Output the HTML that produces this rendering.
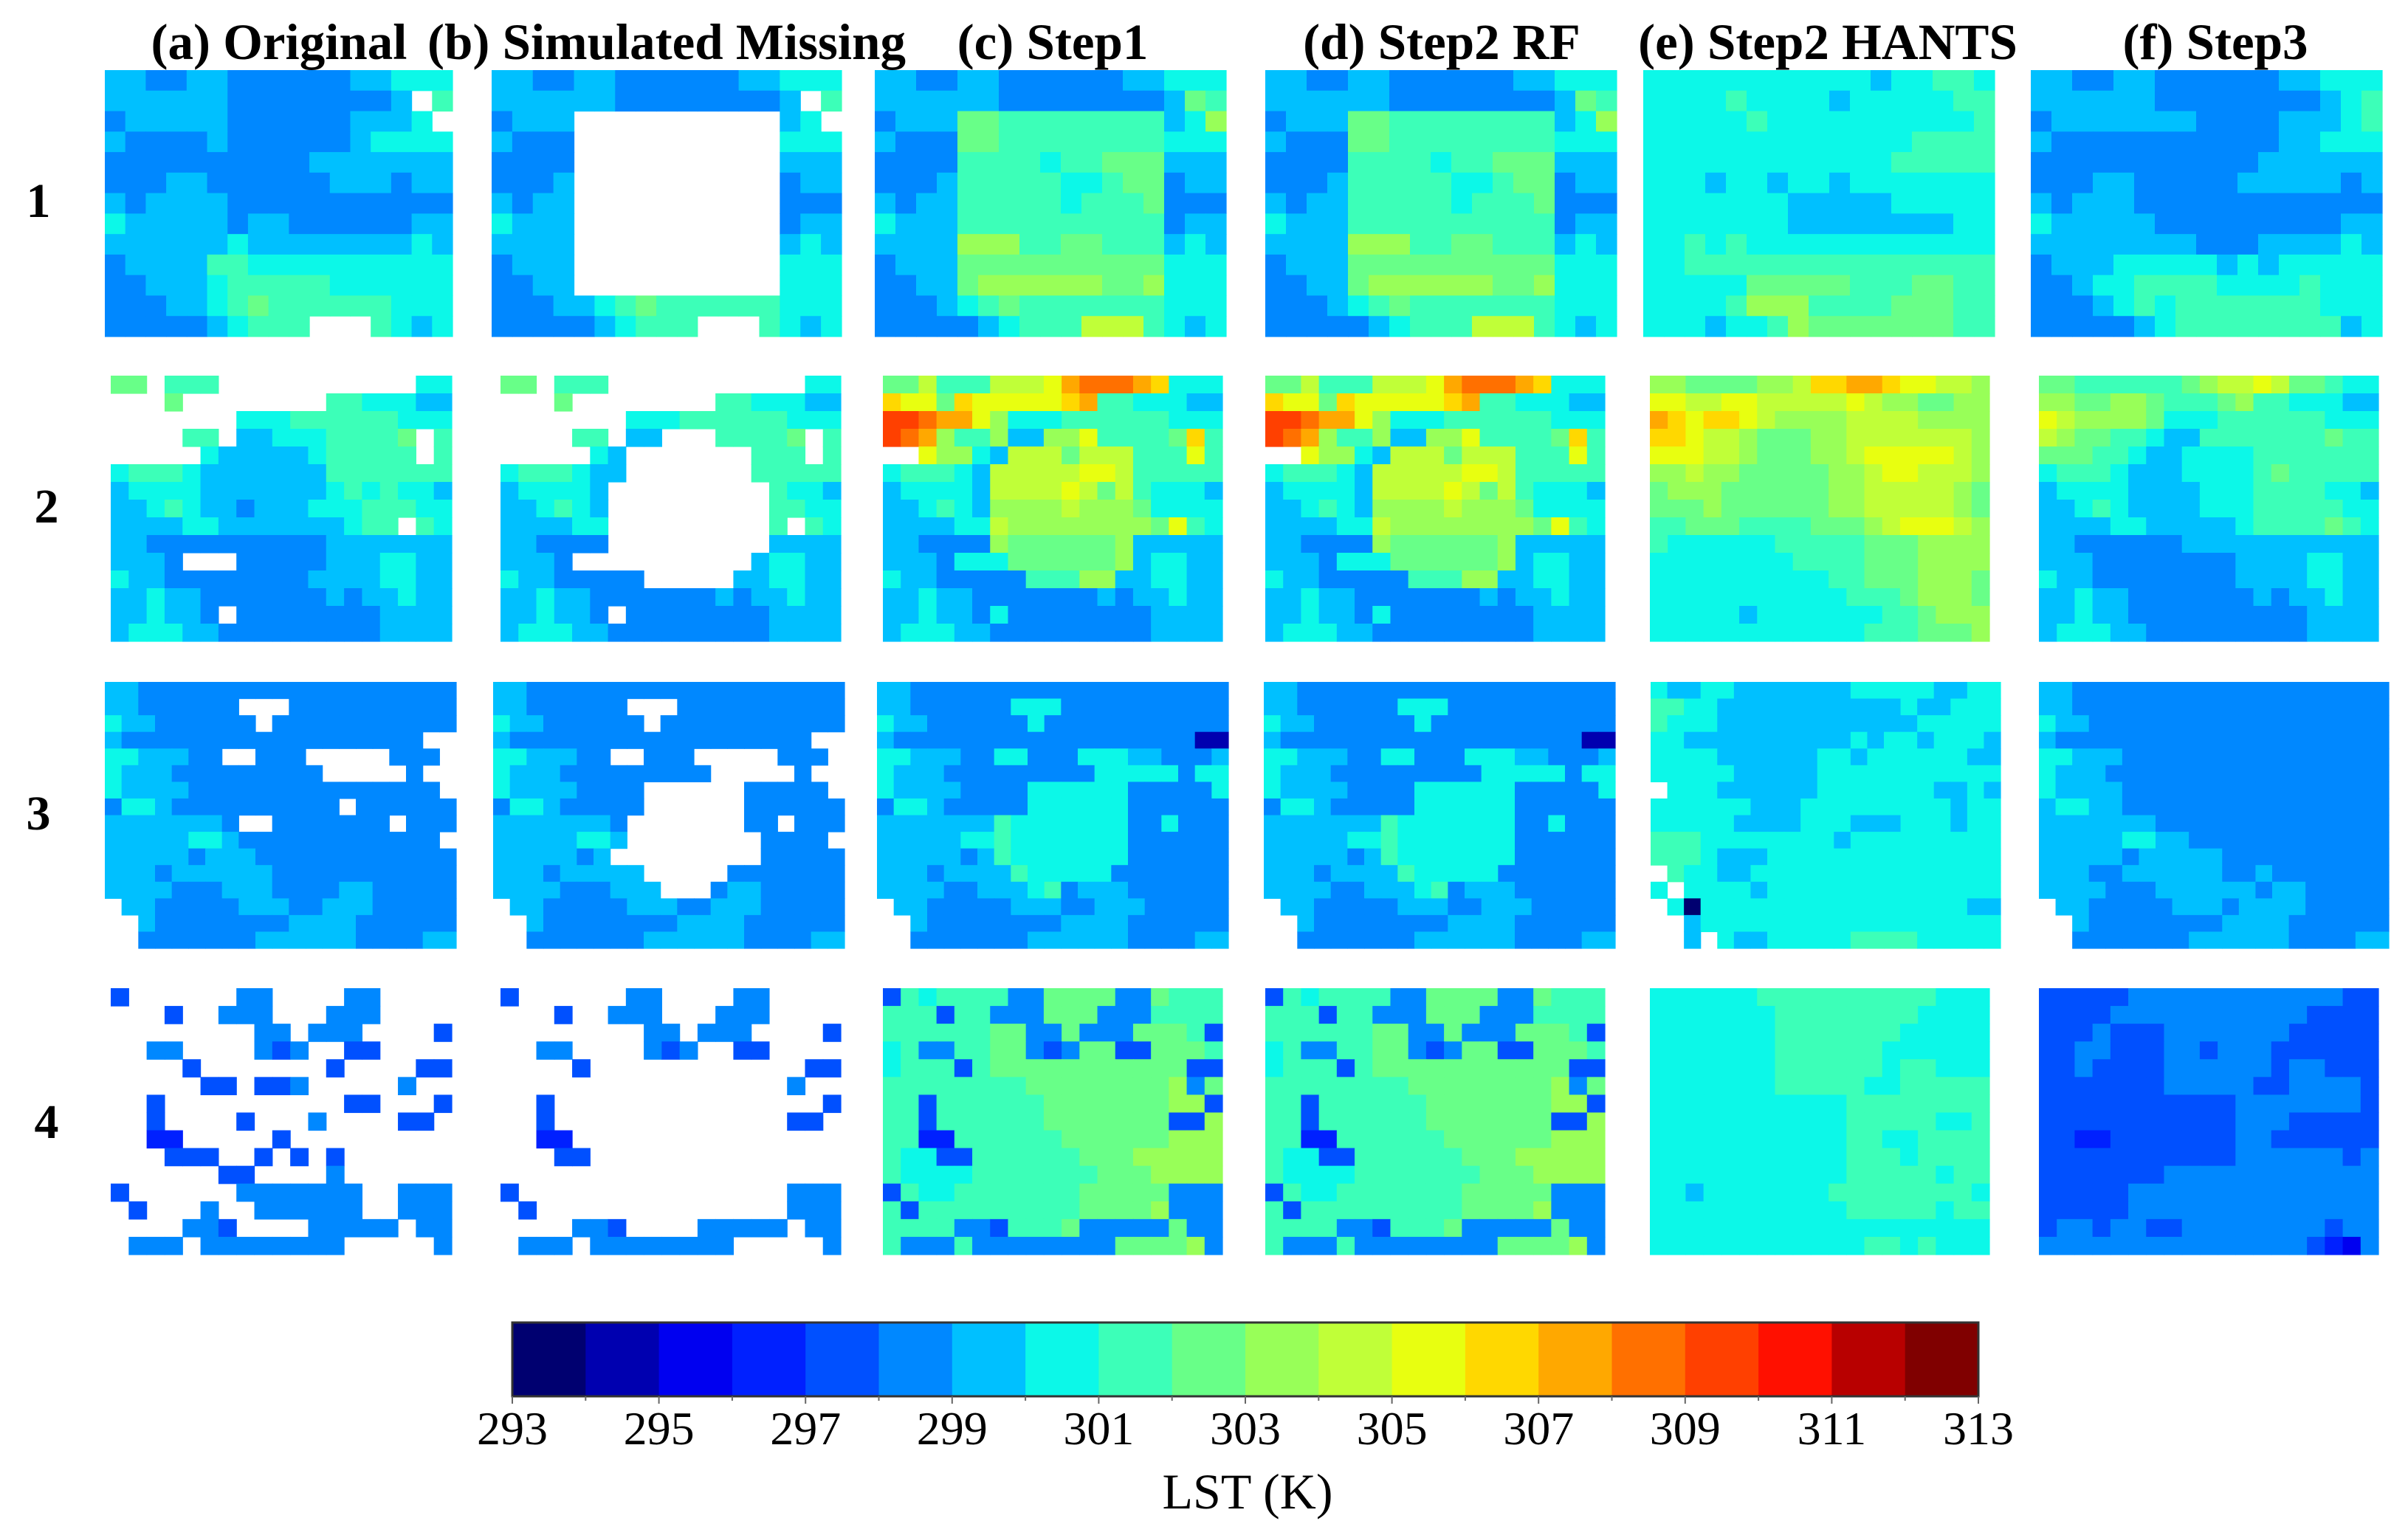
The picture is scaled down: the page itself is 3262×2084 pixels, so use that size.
<!DOCTYPE html>
<html><head><meta charset="utf-8">
<style>
html,body{margin:0;padding:0;background:#fff;}
svg{display:block;}
text{font-family:"Liberation Serif","DejaVu Serif",serif;}
</style></head>
<body>
<svg id="fig" xmlns="http://www.w3.org/2000/svg" width="3262" height="2084" viewBox="0 0 3262 2084">
<g id="titles" font-weight="bold" font-size="69" text-anchor="middle">
<text x="378" y="80">(a) Original</text>
<text x="903" y="80">(b) Simulated Missing</text>
<text x="1426" y="80">(c) Step1</text>
<text x="1953" y="80">(d) Step2 RF</text>
<text x="2476" y="80">(e) Step2 HANTS</text>
<text x="3001" y="80">(f) Step3</text>
</g>
<g id="rowlabels" font-weight="bold" font-size="66" text-anchor="middle">
<text x="52" y="294">1</text>
<text x="63" y="708">2</text>
<text x="52" y="1124">3</text>
<text x="63" y="1542">4</text>
</g>
<g id="maps"></g>
<g id="cbar"></g>
</svg>
<script>
// ---- colour scale data ----
const levelColors = ["#000070","#0000b0","#0000f0","#0020ff","#0050ff","#0088ff","#00c0ff","#0cf8e8","#3cffb8","#68ff88","#98ff58","#c0ff38","#e8ff10","#ffd800","#ffa800","#ff7000","#ff4000","#ff1000","#b80000","#800000"];
const cbarMin = 293;
const cbarMax = 313;
const cbarTicks = [293,295,297,299,301,303,305,307,309,311,313];

// ---- map data (level code per pixel: 0-9,a-j => 293+level K, '.' = missing) ----
const lstA1 = ["66556655555566777","666666555555556.8","5666665555556667.","65555655555567777","55555555556666666","55566555555666566","65666655555555555","76666656655555566","66666676666666676","56666887777777777","55666788888777777","55566789888888777","5555567888...8767"];
const holeB1 = [[2,4,13],[3,4,13],[4,4,13],[5,4,13],[6,4,13],[7,4,13],[8,4,13],[9,4,13],[10,4,13]];
const lstC1 = ["66556655555566777","66666655555555698","5666998888888867a","65559988888888777","55558888788999666","55568888877899566","65668888878889555","76668888888888566","6666aaa8899888676","56669999999999777","55669aaaaaa99a777","55567898888888777","5555567888bbb8767"];
const lstE1 = ["77777777777677887","77778777767777788","77777877777777778","77777777777778888","77777777777788888","77767767767777777","77777776666677777","77777776666666677","77878777777777777","77888888888888888","77777999998889988","77778aaa888899988","7776778a999999988"];
const lstF1 = ["66556655555566777","66666655555555678","56666666555566678","65555555555566777","55555555555666666","55566555556666656","65666555555555555","76666655555555566","66666666555666676","56667777767677777","55677888877778777","55567878888888777","55555678888888867"];

const lstA2 = ["99.888...........77","...9........8877766",".......777888888777","....88.6677788889.8",".....766666788888.8","7888766666668888888","6777766666667878776","6678766566677788877","6666776666666788.87","6655555555556666666","6665...555556667766","7665555555566667766","6676655555556566766","667665.555555556666","6777665555555556666"];
const holeB2 = [[3,9,11],[4,7,13],[5,7,13],[6,6,14],[7,6,14],[8,6,14],[9,6,14],[10,4,13],[11,8,12]];
const lstC2 = ["99b888bbbcefffed777","dcc9dcccccde8877766","ggfeeca777888888777","gfea88a66aac88889d8","..caa76bbb9bbb888c8","788876bbbbbccb88888","677776bbbbcb9b87776","667876aaaabaaa97777","666677baaaaaaaa9c87","665555a999999a66666","6665777999999a67766","76655555888aa667766","6676655555556566766","6676657555555556666","6777665555555556666"];
const lstE2 = ["aa9999aabddeedccbba","ccbbccbbbbbcbaa99aa","edcddcbaaaabbbbaaaa","ddcbba999aabbbbbbba","cccbba999aabcccccba","aabaa99999aabccbbba","9aaa999999aabbbbba9","999a999999aabbbbba9","889998888999abcccba","877777788888999aaaa","777777778888999aaaa","777777777788999aaa9","777777777778889aaa9","7777767777777889aaa","777777777777888999a"];
const lstF2 = ["998888889abbcb99877","aa99aa98889a8877766","cbaaaa9777888888777","ba99887668888888988","9998876677778888888","7888766677778988888","6777766667778888776","6678766667778888877","6666776666678888987","6655555566666666666","6665555555566667766","7665555555566667766","6676655555556566766","6676655555555556666","6777665555555556666"];

const lstA3 = ["665555555555555555555","66555555...5555555555","766555555.55555555555","6555555555555555555..","7766655..555.....555.","7666555555555.....5..","76666555555555555555.","57765555555555.555555","66666665..5555555.555","66666776555555555555.","666665666555555555555","666566666655555555555","666655566655556655555",".66555556665566655555","..6555555556666555555","..5555555666666555566"];
const holeB3 = [[6,9,14],[7,9,14],[8,8,14],[9,8,15],[10,7,15],[11,9,13],[12,10,12]];
const lstC3 = ["665555555555555555555","665555557775555555555","766555555755555555555","655555555555555555511","776665577555777665556","766655555555577777577","766665555777777555557","577655555777777555555","666666687777777557555","666667787777777555555","666665687777777555555","666566668777775555555","666655666785666555555",".66555556665566655555","..6555555556666555555","..5555555666666555566"];
const lstE3 = ["766776666666777776677","887766666666666766777","877766666666666677777","776666666666767767776","777766666677677777766","777776666677777777777",".77766666677777776676","777777666777777777677","777776666777666777677","888777777776777777777","888766677777777777777",".87766777777777777777","7.7777677777777777777",".70777777777777777766","..6777777777777777777","..6.76677777888877777"];
const lstF3 = ["665555555555555555555","665555555555555555555","766555555555555555555","655555555555555555555","776665555555555555555","766655555555555555555","766665555555555555555","677665555555555555555","666666655555555555555","666667766555555555555","666665666665555555555","666556666665565555555","666655566666656655555",".66555556665666655555","..6555555556666555555","..5555555666666555566"];

const lstA4 = ["4......55....55....","...4..555...555....","........55.555....4","..55....545..44....","....4.......4....44",".....44.445.....5..","..4..........44...4","..4....4...5....44.","..33.....4.........","...444..4.4.4......","......44....5......","4......5555555..555",".4...5..555555..555","....554....55555.55",".555.55555555.....5"];
const lstB4 = ["4......55....55....","...4..555...555....","........55.555....4","..55....545..44....","....4............44","................5..","..4...............4","..4.............44.","..33...............","...44..............","...................","4...............555",".4..............555","....554....55555.55",".555.55555555.....5"];
const lstC4 = ["4878888559999559888","8884885559995558888","8888889955955599984","7855889954599449998","7888489999999999944","8888888899999999a59","8848888889999999aa4","884888888999999944a","8833888888999999aaa","87744888888999aaaaa","877778888888999aaaa","4877888888899999555","848888888889999a555","8888554888955555955","85558555555559999a5"];
const lstE4 = ["7777778888888888777","7777777888888887777","7777777888888877777","7777777888888777777","7777777888888788777","7777777888887788888","7777777777788888888","7777777777788888778","7777777777788778888","7777777777788878888","7777777777788888788","7767777777888888887","7777777777788888788","7777777777777777777","7777777777778878777"];
const lstF4 = ["4444455555555555544","4444555555555554444","4445444555555544444","4455444554555444444","4454444555555455444","4444444555554455554","4444444444455555554","4444444444455544444","4433444444455444444","4444444444455555545","4444444555555555555","4444455555555555555","4444455555555555555","4554554455555555455","5555555555555554325"];

// ---- layout ----
const SVGNS = "http://www.w3.org/2000/svg";
function codeToValue(ch){ if(ch==='.'||ch===' ') return null; return cbarMin + parseInt(ch,36) + 0.5; }
function valueToColor(v){ let i=Math.floor(v-cbarMin); if(i<0)i=0; if(i>levelColors.length-1)i=levelColors.length-1; return levelColors[i]; }
function parseGrid(rows, ncols){
  return rows.map(r=>{ let s=r; while(s.length<ncols) s+=s[s.length-1]; s=s.slice(0,ncols); return Array.from(s).map(codeToValue); });
}
function applyHoles(rows, holes){
  const out = rows.map(r=>r.slice());
  holes.forEach(h=>{ for(let c=h[1];c<=h[2];c++){ out[h[0]][c]=null; } });
  return out;
}
const g1 = parseGrid(lstA1,17), gc1 = parseGrid(lstC1,17);
const g2 = parseGrid(lstA2,19), gc2 = parseGrid(lstC2,19);
const g3 = parseGrid(lstA3,21), gc3 = parseGrid(lstC3,21);
const gc4 = parseGrid(lstC4,19);
const panels = [
 {name:"map-1a",grid:g1,x:142,y:95,w:471,h:361},
 {name:"map-1b",grid:applyHoles(g1,holeB1),x:666,y:95,w:474,h:361},
 {name:"map-1c",grid:gc1,x:1185,y:95,w:476,h:361},
 {name:"map-1d",grid:gc1,x:1714,y:95,w:476,h:361},
 {name:"map-1e",grid:parseGrid(lstE1,17),x:2226,y:95,w:476,h:361},
 {name:"map-1f",grid:parseGrid(lstF1,17),x:2751,y:95,w:476,h:361},
 {name:"map-2a",grid:g2,x:150,y:509,w:462,h:360},
 {name:"map-2b",grid:applyHoles(g2,holeB2),x:678,y:509,w:461,h:360},
 {name:"map-2c",grid:gc2,x:1196,y:509,w:460,h:360},
 {name:"map-2d",grid:gc2,x:1714,y:509,w:460,h:360},
 {name:"map-2e",grid:parseGrid(lstE2,19),x:2235,y:509,w:460,h:360},
 {name:"map-2f",grid:parseGrid(lstF2,19),x:2762,y:509,w:460,h:360},
 {name:"map-3a",grid:g3,x:142,y:924,w:476,h:361},
 {name:"map-3b",grid:applyHoles(g3,holeB3),x:668,y:924,w:476,h:361},
 {name:"map-3c",grid:gc3,x:1188,y:924,w:476,h:361},
 {name:"map-3d",grid:gc3,x:1712,y:924,w:476,h:361},
 {name:"map-3e",grid:parseGrid(lstE3,21),x:2236,y:924,w:474,h:361},
 {name:"map-3f",grid:parseGrid(lstF3,21),x:2762,y:924,w:474,h:361},
 {name:"map-4a",grid:parseGrid(lstA4,19),x:150,y:1339,w:462,h:361},
 {name:"map-4b",grid:parseGrid(lstB4,19),x:678,y:1339,w:461,h:361},
 {name:"map-4c",grid:gc4,x:1196,y:1339,w:460,h:361},
 {name:"map-4d",grid:gc4,x:1714,y:1339,w:460,h:361},
 {name:"map-4e",grid:parseGrid(lstE4,19),x:2235,y:1339,w:460,h:361},
 {name:"map-4f",grid:parseGrid(lstF4,19),x:2762,y:1339,w:460,h:361}
];
const maps = document.getElementById('maps');
panels.forEach(p=>{
  const g = document.createElementNS(SVGNS,'g');
  
  
  const nr = p.grid.length, nc = p.grid[0].length;
  const cw = p.w/nc, ch = p.h/nr;
  p.grid.forEach((row,r)=>{
    row.forEach((v,c)=>{
      if(v===null) return;
      const rect = document.createElementNS(SVGNS,'rect');
      
      
      rect.setAttribute('x', (p.x + c*cw).toFixed(2));
      rect.setAttribute('y', (p.y + r*ch).toFixed(2));
      rect.setAttribute('width', (cw+0.6).toFixed(2));
      rect.setAttribute('height', (ch+0.6).toFixed(2));
      rect.setAttribute('fill', valueToColor(v));
      g.appendChild(rect);
    });
  });
  maps.appendChild(g);
});

// ---- colorbar ----
const cb = document.getElementById('cbar');
const cbX0 = 694, cbX1 = 2680, cbY0 = 1792, cbY1 = 1892;
function cbScale(v){ return cbX0 + (v-cbarMin)/(cbarMax-cbarMin)*(cbX1-cbX0); }
levelColors.forEach((col,i)=>{
  const r = document.createElementNS(SVGNS,'rect');
  
  
  const xa = cbScale(cbarMin+i), xb = cbScale(cbarMin+i+1);
  r.setAttribute('x', xa.toFixed(2)); r.setAttribute('y', cbY0);
  r.setAttribute('width', (xb-xa+0.5).toFixed(2)); r.setAttribute('height', cbY1-cbY0);
  r.setAttribute('fill', col);
  cb.appendChild(r);
});
const border = document.createElementNS(SVGNS,'rect');


border.setAttribute('x', cbX0); border.setAttribute('y', cbY0);
border.setAttribute('width', cbX1-cbX0); border.setAttribute('height', cbY1-cbY0);
border.setAttribute('fill', 'none'); border.setAttribute('stroke', '#333'); border.setAttribute('stroke-width', '3');
cb.appendChild(border);
for(let v=cbarMin; v<=cbarMax; v++){
  const t = document.createElementNS(SVGNS,'line');
  
  
  const x = cbScale(v);
  t.setAttribute('x1', x); t.setAttribute('x2', x);
  t.setAttribute('y1', cbY1); t.setAttribute('y2', cbY1 + ((v-cbarMin)%2===0 ? 10 : 6));
  t.setAttribute('stroke', '#666'); t.setAttribute('stroke-width', '2');
  cb.appendChild(t);
}
cbarTicks.forEach(v=>{
  const tx = document.createElementNS(SVGNS,'text');
  
  
  tx.setAttribute('x', cbScale(v)); tx.setAttribute('y', 1957);
  tx.setAttribute('text-anchor', 'middle'); tx.setAttribute('font-size', '64');
  tx.textContent = String(v);
  cb.appendChild(tx);
});
const lab = document.createElementNS(SVGNS,'text');


lab.setAttribute('x', 1690); lab.setAttribute('y', 2044);
lab.setAttribute('text-anchor', 'middle'); lab.setAttribute('font-size', '68');
lab.textContent = 'LST (K)';
cb.appendChild(lab);
</script>
</body></html>
